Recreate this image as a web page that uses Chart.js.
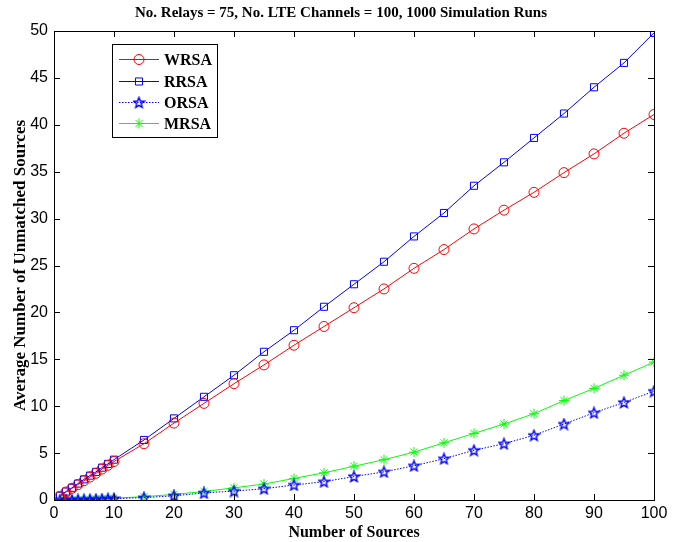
<!DOCTYPE html>
<html>
<head>
<meta charset="utf-8">
<script src="https://cdn.jsdelivr.net/npm/chart.js@4"></script>
<style>
  html, body { margin: 0; padding: 0; background: #fff; }
  #wrap { width: 682px; height: 542px; }
</style>
</head>
<body>
<div id="wrap"><canvas id="myChart"></canvas></div>
<script>
// Number of sources vs average unmatched sources

const sources = [1, 2, 3, 4, 5, 6, 7, 8, 9, 10,
  15, 20, 25, 30, 35, 40, 45, 50, 55, 60, 65, 70, 75, 80, 85, 90, 95, 100];

const wrsa = [0.4, 0.85, 1.25, 1.65, 2.05, 2.45, 2.85, 3.3, 3.7, 4.1,
  6.0, 8.2, 10.3, 12.4, 14.4, 16.5, 18.5, 20.5, 22.5, 24.7, 26.7, 28.9, 30.9, 32.8, 34.9, 36.9, 39.1, 41.1];
const rrsa = [0.45, 0.9, 1.3, 1.75, 2.2, 2.6, 3.0, 3.45, 3.85, 4.3,
  6.4, 8.7, 11.0, 13.3, 15.8, 18.1, 20.6, 23.0, 25.4, 28.1, 30.6, 33.5, 36.0, 38.6, 41.2, 44.0, 46.6, 49.8];
const orsa = [0.0, 0.0, 0.01, 0.02, 0.03, 0.05, 0.07, 0.09, 0.12, 0.15,
  0.25, 0.45, 0.75, 0.95, 1.2, 1.6, 1.95, 2.5, 3.0, 3.65, 4.4, 5.3, 6.0, 6.9, 8.1, 9.3, 10.4, 11.6];
const mrsa = [0.0, 0.01, 0.02, 0.03, 0.05, 0.07, 0.1, 0.13, 0.16, 0.2,
  0.35, 0.6, 0.9, 1.3, 1.7, 2.3, 2.9, 3.6, 4.3, 5.1, 6.1, 7.1, 8.1, 9.2, 10.6, 11.9, 13.3, 14.7];

const seriesNames = ["WRSA", "RRSA", "ORSA", "MRSA"];
const xTicks = [0, 10, 20, 30, 40, 50, 60, 70, 80, 90, 100];
const yTicks = [0, 5, 10, 15, 20, 25, 30, 35, 40, 45, 50];

// pentagram marker for ORSA (Chart.js has no 5-point star)
function makeStar(color) {
  const c = document.createElement("canvas");
  c.width = 13; c.height = 13;
  const g = c.getContext("2d");
  g.strokeStyle = color;
  g.lineWidth = 1.4;
  g.beginPath();
  for (let i = 0; i < 10; i++) {
    const r = i % 2 == 0 ? 5.5 : 2.4;
    const a = -Math.PI / 2 + i * Math.PI / 5;
    const px = 6.5 + r * Math.cos(a), py = 6.9 + r * Math.sin(a);
    if (i == 0) g.moveTo(px, py); else g.lineTo(px, py);
  }
  g.closePath();
  g.stroke();
  return c;
}
const starImg = makeStar("#0000ff");

function pts(ys) {
  return sources.map((x, i) => ({ x: x, y: ys[i] }));
}

const datasets = [
  { label: seriesNames[0], data: pts(wrsa), borderColor: "#ff0000", pointStyle: "circle", pointRadius: 5, borderDash: [] },
  { label: seriesNames[1], data: pts(rrsa), borderColor: "#0000ff", pointStyle: "rect", pointRadius: 5, borderDash: [] },
  { label: seriesNames[2], data: pts(orsa), borderColor: "#0000ff", pointStyle: starImg, pointRadius: 5, borderDash: [1.5, 1.5] },
  { label: seriesNames[3], data: pts(mrsa), borderColor: "#00ff00", pointStyle: "star", pointRadius: 5, borderDash: [] },
].map(d => Object.assign(d, {
  backgroundColor: "rgba(0,0,0,0)",
  pointBorderColor: d.borderColor,
  pointBackgroundColor: "rgba(0,0,0,0)",
  borderWidth: 1,
  pointBorderWidth: 1,
  tension: 0,
}));

// MATLAB-like box, inward ticks and legend
const matlabBox = {
  id: "matlabBox",
  afterDatasetsDraw(chart) {
    const ctx = chart.ctx;
    const a = chart.chartArea;
    const xs = chart.scales.x, ys = chart.scales.y;
    ctx.save();
    ctx.strokeStyle = "#000";
    ctx.lineWidth = 1;
    ctx.strokeRect(a.left + 0.5, a.top + 0.5, a.right - a.left, a.bottom - a.top);
    ctx.beginPath();
    xTicks.forEach(v => {
      const px = Math.round(xs.getPixelForValue(v)) + 0.5;
      ctx.moveTo(px, a.bottom); ctx.lineTo(px, a.bottom - 6);
      ctx.moveTo(px, a.top); ctx.lineTo(px, a.top + 6);
    });
    yTicks.forEach(v => {
      const py = Math.round(ys.getPixelForValue(v)) + 0.5;
      ctx.moveTo(a.left, py); ctx.lineTo(a.left + 6, py);
      ctx.moveTo(a.right, py); ctx.lineTo(a.right - 6, py);
    });
    ctx.stroke();

    // legend box
    const lx = 112, ly = 44, lw = 105, lh = 93;
    ctx.fillStyle = "#fff";
    ctx.fillRect(lx, ly, lw, lh);
    ctx.strokeRect(lx + 0.5, ly + 0.5, lw, lh);
    ctx.font = "bold 16px 'Liberation Serif'";
    ctx.textBaseline = "middle";
    const rows = [59, 81, 102, 123];
    chart.data.datasets.forEach((d, i) => {
      const y = rows[i] + 0.5;
      ctx.strokeStyle = d.borderColor;
      ctx.setLineDash(d.borderDash);
      ctx.beginPath();
      ctx.moveTo(119, y); ctx.lineTo(159, y);
      ctx.stroke();
      ctx.setLineDash([]);
      ctx.fillStyle = "rgba(0,0,0,0)";
      Chart.helpers.drawPoint(ctx, {
        pointStyle: d.pointStyle, radius: d.pointRadius, borderWidth: 1, rotation: 0
      }, 139, y);
      ctx.fillStyle = "#000";
      ctx.fillText(d.label, 164, y + 1);
    });
    ctx.restore();
  },
};

const config = {
  type: "line",
  data: { datasets: datasets },
  options: {
    responsive: true,
    maintainAspectRatio: false,
    animation: false,
    layout: { padding: 0 },
    scales: {
      x: {
        type: "linear",
        min: 0,
        max: 100,
        afterBuildTicks: (s) => { s.ticks = xTicks.map(v => ({ value: v })); },
        afterFit: (s) => { s.height = 42; },
        grid: { display: false, drawTicks: false },
        border: { display: false },
        ticks: {
          color: "#000",
          padding: 4,
          maxRotation: 0,
          font: { family: "'Liberation Sans'", size: 16 },
        },
        title: {
          display: true,
          text: "Number of Sources",
          color: "#000",
          padding: { top: 0, bottom: 0 },
          font: { family: "'Liberation Serif'", size: 16, weight: "bold" },
        },
      },
      y: {
        min: 0,
        max: 50,
        afterBuildTicks: (s) => { s.ticks = yTicks.map(v => ({ value: v })); },
        afterFit: (s) => { s.width = 54; },
        grid: { display: false, drawTicks: false },
        border: { display: false },
        ticks: {
          color: "#000",
          padding: 6,
          font: { family: "'Liberation Sans'", size: 16 },
        },
        title: {
          display: true,
          text: "Average Number of Unmatched Sources",
          color: "#000",
          padding: { top: 10, bottom: 0 },
          font: { family: "'Liberation Serif'", size: 17, weight: "bold" },
        },
      },
      // empty right axis: keeps the right margin so the title stays centred on the page
      yr: {
        position: "right",
        min: 0,
        max: 50,
        afterFit: (s) => { s.width = 28; },
        grid: { display: false, drawTicks: false },
        border: { display: false },
        ticks: { display: false },
      },
    },
    plugins: {
      legend: { display: false },
      tooltip: { enabled: false },
      title: {
        display: true,
        text: "No. Relays = 75, No. LTE Channels = 100, 1000 Simulation Runs",
        color: "#000",
        padding: { top: 4, bottom: 9 },
        font: { family: "'Liberation Serif'", size: 15, weight: "bold" },
      },
    },
  },
  plugins: [matlabBox],
};

const myChart = new Chart(document.getElementById("myChart").getContext("2d"), config);
</script>
</body>
</html>
